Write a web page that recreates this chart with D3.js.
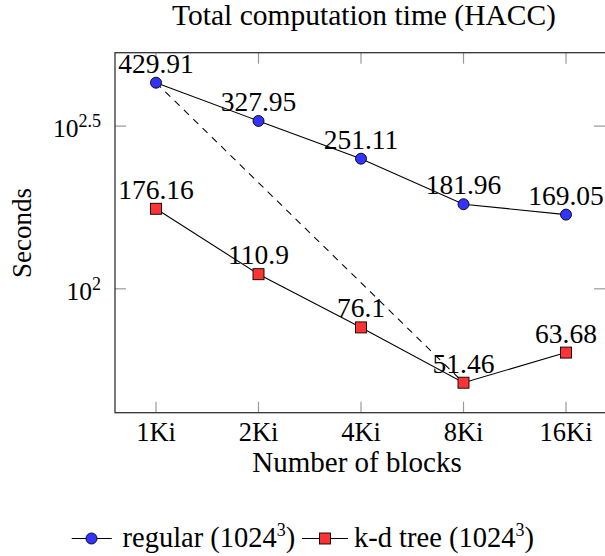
<!DOCTYPE html>
<html><head><meta charset="utf-8">
<script src="https://cdn.jsdelivr.net/npm/d3@7"></script>
<style>body{margin:0;background:#fff}svg{display:block}</style>
</head><body><svg id="c" width="605" height="556"></svg>
<script>
const categories = ["1Ki","2Ki","4Ki","8Ki","16Ki"];
const regular = [429.91, 327.95, 251.11, 181.96, 169.05];
const kdtree = [176.16, 110.9, 76.1, 51.46, 63.68];
const yTickExps = ["2", "2.5"];
const seriesNames = ["regular (1024", "k-d tree (1024"];

const FONT = "'Liberation Serif', 'DejaVu Serif', serif";
const svg = d3.select("#c").attr("font-family", FONT);
const L = 115, R = 607, T = 52.7, B = 412.7;
const all = regular.concat(kdtree);
const lmin = Math.log10(d3.min(all)), lmax = Math.log10(d3.max(all));
const pad = (lmax - lmin) * 0.1;
const y = d3.scaleLog().domain([Math.pow(10, lmin - pad), Math.pow(10, lmax + pad)]).range([B, T]);
const x = d3.scaleLinear().domain([-0.4, categories.length - 1 + 0.4]).range([L, R]);

const g = svg.append("g");
const tickStroke = "#999";
categories.forEach((c, i) => {
  g.append("line").attr("x1", x(i)).attr("x2", x(i)).attr("y1", B).attr("y2", B - 11).attr("stroke", tickStroke).attr("stroke-width", 1.2);
  g.append("line").attr("x1", x(i)).attr("x2", x(i)).attr("y1", T).attr("y2", T + 11).attr("stroke", tickStroke).attr("stroke-width", 1.2);
  g.append("text").attr("x", x(i)).attr("y", 440.5).attr("text-anchor", "middle").attr("font-size", 26.5).text(c);
});
yTickExps.forEach(e => {
  const v = Math.pow(10, +e);
  const yy = y(v);
  g.append("line").attr("x1", L).attr("x2", L + 11).attr("y1", yy).attr("y2", yy).attr("stroke", tickStroke).attr("stroke-width", 1.2);
  g.append("line").attr("x1", 605).attr("x2", 605 - 11).attr("y1", yy).attr("y2", yy).attr("stroke", tickStroke).attr("stroke-width", 1.2);
  const t = g.append("text").attr("x", 101).attr("y", yy + 11).attr("text-anchor", "end").attr("font-size", 25.5);
  t.append("tspan").text("10");
  t.append("tspan").attr("dy", -10).attr("font-size", 18).text(e);
});
g.append("rect").attr("x", L).attr("y", T).attr("width", R - L).attr("height", B - T)
  .attr("fill", "none").attr("stroke", "#333").attr("stroke-width", 1.3);

g.append("line").attr("x1", x(0)).attr("y1", y(regular[0])).attr("x2", x(3)).attr("y2", y(kdtree[3]))
  .attr("stroke", "#000").attr("stroke-width", 1.05).attr("stroke-dasharray", "7,6");

const line = d3.line().x((d, i) => x(i)).y(d => y(d));
[regular, kdtree].forEach(s => {
  g.append("path").attr("d", line(s)).attr("fill", "none").attr("stroke", "#000").attr("stroke-width", 1.1);
});
[regular, kdtree].forEach(s => {
  s.forEach((v, i) => {
    g.append("text").attr("x", x(i)).attr("y", y(v) - 10).attr("text-anchor", "middle").attr("font-size", 27.5).text(v);
  });
});
regular.forEach((v, i) => {
  g.append("circle").attr("cx", x(i)).attr("cy", y(v)).attr("r", 5.5).attr("fill", "#3333ff").attr("stroke", "#000").attr("stroke-width", 0.9);
});
kdtree.forEach((v, i) => {
  g.append("rect").attr("x", x(i) - 5.5).attr("y", y(v) - 5.5).attr("width", 11).attr("height", 11).attr("fill", "#ff3333").attr("stroke", "#000").attr("stroke-width", 0.9);
});

svg.append("text").attr("x", 364).attr("y", 25).attr("text-anchor", "middle").attr("font-size", 29.5).text("Total computation time (HACC)");
svg.append("text").attr("x", 357).attr("y", 472).attr("text-anchor", "middle").attr("font-size", 29).text("Number of blocks");
svg.append("text").attr("transform", "translate(31,233) rotate(-90)").attr("text-anchor", "middle").attr("font-size", 27).text("Seconds");

const ly = 538.5;
const lg = svg.append("g");
lg.append("line").attr("x1", 71.7).attr("x2", 111.7).attr("y1", ly).attr("y2", ly).attr("stroke", "#000").attr("stroke-width", 1.1);
lg.append("circle").attr("cx", 91.5).attr("cy", ly).attr("r", 5.5).attr("fill", "#3333ff").attr("stroke", "#000").attr("stroke-width", 0.9);
let t1 = lg.append("text").attr("x", 122.5).attr("y", 546.5).attr("font-size", 28.5);
t1.append("tspan").text(seriesNames[0]);
t1.append("tspan").attr("dy", -11).attr("font-size", 18).text("3");
t1.append("tspan").attr("dy", 11).text(")");
lg.append("line").attr("x1", 302).attr("x2", 348).attr("y1", ly).attr("y2", ly).attr("stroke", "#000").attr("stroke-width", 1.1);
lg.append("rect").attr("x", 325 - 5.5).attr("y", ly - 5.5).attr("width", 11).attr("height", 11).attr("fill", "#ff3333").attr("stroke", "#000").attr("stroke-width", 0.9);
let t2 = lg.append("text").attr("x", 354).attr("y", 546.5).attr("font-size", 28.5);
t2.append("tspan").text(seriesNames[1]);
t2.append("tspan").attr("dy", -11).attr("font-size", 18).text("3");
t2.append("tspan").attr("dy", 11).text(")");
</script></body></html>
